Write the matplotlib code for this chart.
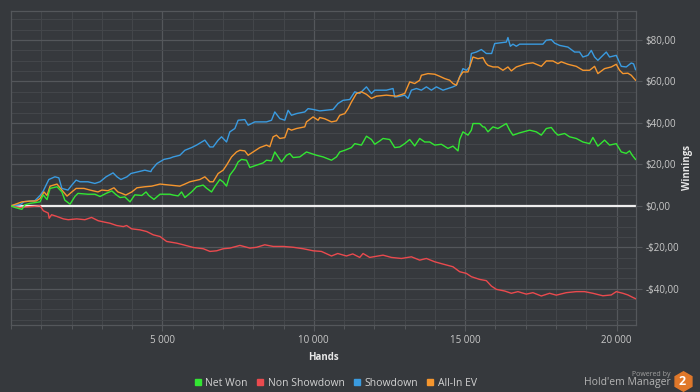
import matplotlib
matplotlib.use("Agg")
import matplotlib.pyplot as plt
from matplotlib.ticker import MultipleLocator, FuncFormatter
from matplotlib.lines import Line2D

# ---------------- data ----------------
sd_hands = [0, 300, 430, 790, 960, 1060, 1250, 1450, 1580, 1680, 1880, 2010, 2150, 2280, 2540, 2770, 2940,
            3140, 3370, 3500, 3630, 3830, 3960, 4190, 4420, 4620, 4650, 4820, 5050, 5250, 5356, 5577, 5742,
            5963, 6128, 6402, 6567, 6676, 6841, 6953, 7118, 7227, 7392, 7501, 7722, 7831, 8052, 8438, 8603,
            8712, 8877, 9042, 9151, 9263, 9428, 9702, 9811, 9976, 10197, 10636, 10801, 10966, 11187, 11352,
            11517, 11738, 11903, 12012, 12398, 12616, 12672, 12837, 13002, 13111, 13223, 13388, 13553, 13718,
            13883, 14048, 14266, 14431, 14596, 14708, 14817, 14926, 15038, 15147, 15203, 15368, 15533, 15698,
            15873, 15972, 16358, 16411, 16490, 16576, 16688, 16797, 17566, 17678, 17843, 17952, 18117, 18391,
            18612, 18777, 18886, 19051, 19163, 19272, 19381, 19546, 19658, 19767, 19988, 20153, 20318, 20483,
            20560, 20625]
sd_vals = [0, 0.5, 2, 2.5, 5, 7, 12.7, 14, 13.5, 8.4, 7.6, 10, 12.4, 11.6, 11.6, 10.8, 11.6,
           14, 15.9, 14, 12.7, 14, 15.6, 16.4, 17.2, 16.5, 17.5, 20.4, 22.4, 23, 23.6, 24.4, 26.8,
           28.1, 29.3, 31.7, 28.4, 28.4, 31.7, 33.3, 30.8, 35.7, 37.3, 41.3, 41.6, 38.9, 40.5, 40.5, 41.3,
           45.3, 42.1, 41.3, 46.1, 43.7, 44.5, 45.3, 46.9, 46.5, 45.8, 46.5, 49.4, 50.9, 51.3, 55,
           54.2, 57.4, 54.2, 55.8, 55.8, 56.6, 52.5, 52.8, 53.4, 51.8, 55.8, 56.6, 55.8, 57.4,
           55.8, 57.4, 55.8, 56.6, 57.4, 58.2, 62.2, 66.2, 65.4, 67, 73.5, 74.2, 75.4, 73.5,
           73.5, 78.3, 79, 81.2, 77, 78, 77, 78, 78, 79.9, 80.2, 78.5, 77.4, 76.6,
           74.2, 74.2, 71.8, 72.6, 75, 71.8, 70.2, 72.6, 74.2, 71.8, 72.6, 67.3, 67, 68.9,
           68.5, 65.7]

ev_hands = [0, 360, 630, 830, 960, 1090, 1190, 1290, 1520, 1680, 1850, 2010, 2150, 2410, 2610, 2870, 3000,
            3200, 3400, 3530, 3660, 3790, 3990, 4160, 4420, 4650, 4920, 5247, 5577, 5742, 5907, 6237, 6402,
            6567, 6676, 6841, 7006, 7118, 7283, 7448, 7557, 7722, 7831, 7996, 8217, 8438, 8547, 8656, 8766,
            8877, 9042, 9151, 9263, 9428, 9702, 9758, 9976, 10141, 10197, 10362, 10583, 10748, 10857, 11022,
            11131, 11243, 11408, 11573, 11738, 11903, 12068, 12398, 12728, 13002, 13167, 13332, 13497, 13553,
            13771, 13992, 14157, 14322, 14487, 14596, 14708, 14817, 14926, 15091, 15256, 15421, 15586, 15675,
            15751, 15916, 16081, 16246, 16411, 16523, 16688, 17018, 17236, 17513, 17678, 17897, 18062, 18173,
            18391, 18668, 18886, 19107, 19272, 19381, 19602, 19823, 19988, 20097, 20206, 20371, 20483, 20625]
ev_vals = [0, 1.9, 2.3, 2.3, 3.6, 6.7, 5, 9.5, 10.5, 7.6, 4.7, 6.7, 8.4, 8.4, 7.6, 6.7, 7.6,
           7.3, 8.7, 6.7, 6, 5.2, 6.7, 8.7, 9.2, 9.5, 10.5, 10, 9.5, 10.5, 11.6, 12.7, 14,
           11.6, 11.6, 15.6, 17.2, 19.6, 23.6, 26, 26.8, 26.5, 24.4, 26, 28.1, 29.3, 28.5, 33.3, 34.1,
           32.5, 32.9, 37.3, 36.5, 37.3, 38.1, 40.5, 42.9, 41.3, 42.6, 42, 40.5, 41, 43.7, 44.5,
           46.9, 50.1, 54.2, 55, 53.8, 51.8, 52.9, 53.4, 52.9, 54.2, 59.8, 59, 60.6, 63,
           63.8, 63.5, 62.5, 61.4, 60.6, 59, 58.2, 62.2, 64.6, 64.6, 71.8, 71, 71.5, 69,
           67.8, 67, 67, 65.4, 67, 65.1, 67, 68.6, 69, 67.3, 69.9, 69.9, 68.6, 69.5,
           68.3, 67.3, 65.4, 65.4, 67.3, 63.8, 66.2, 67, 68.3, 65.4, 63.8, 64, 63, 60.6]

nw_hands = [0, 130, 360, 460, 630, 960, 1060, 1190, 1290, 1520, 1680, 1780, 1950, 2110, 2210, 2540, 2770,
            2940, 3140, 3330, 3460, 3600, 3760, 3930, 4090, 4320, 4460, 4550, 4720, 4920, 5250, 5356, 5521,
            5633, 5742, 5963, 6128, 6346, 6457, 6623, 6732, 6897, 7006, 7118, 7227, 7392, 7501, 7613, 7778,
            7887, 8108, 8326, 8438, 8603, 8712, 8821, 8933, 9098, 9207, 9316, 9537, 9758, 9923, 10088, 10306,
            10583, 10748, 10857, 11022, 11243, 11352, 11573, 11738, 11903, 12012, 12177, 12286, 12507, 12672,
            12837, 13002, 13167, 13332, 13497, 13662, 13827, 13992, 14213, 14431, 14596, 14762, 14817, 14926,
            15091, 15203, 15256, 15477, 15586, 15642, 15751, 15916, 16081, 16358, 16467, 16576, 16797, 17127,
            17348, 17513, 17678, 17843, 17952, 18062, 18283, 18447, 18668, 18886, 19107, 19217, 19381, 19602,
            19767, 19988, 20153, 20318, 20427, 20516, 20625]
nw_vals = [0, -0.8, -1.7, 0.5, 1.2, 1.9, 5.3, 3, 8.4, 9.2, 6.7, 2.7, 0.8, 4.5, 6, 5.6, 5.6,
           4.5, 6, 7.2, 5.5, 4, 4.3, 1.9, 5.3, 5, 6.7, 5, 3.1, 5.6, 5.6, 5.2, 4.8,
           6.7, 4, 6.7, 9.2, 10, 8.5, 6.7, 9.3, 12.7, 11.5, 9.5, 14.8, 18, 21.2, 22.4, 22,
           18.5, 19.6, 20.7, 22, 21.7, 26, 23.6, 21.2, 24.4, 25.2, 23.3, 23.6, 26, 25.2, 24.4, 23.6,
           22, 23.6, 26, 26.8, 28.1, 30, 29.3, 33.6, 32, 29.7, 31.3, 32.5, 32, 28.1,
           28.4, 30, 32, 28.9, 32.5, 30.8, 30.8, 29.3, 29.7, 27.7, 28.8, 26.5, 32, 35.7,
           34.1, 36.5, 39.7, 39.7, 38.1, 38, 35.7, 38.1, 37.3, 39.7, 36.5, 34.1, 35.2, 36.5,
           35.7, 34.1, 37.3, 37.8, 35.7, 34.1, 34.9, 33.3, 32.5, 30.8, 30, 33, 28.8, 31.7,
           29.3, 30, 26, 25.3, 26.5, 24.4, 22.4]

ns_hands = [0, 300, 960, 1070, 1230, 1260, 1340, 1510, 1730, 1890, 2170, 2440, 2660, 2880, 3100, 3270,
            3490, 3710, 3820, 3980, 4260, 4480, 4700, 4920, 5140, 5470, 5690, 6020, 6350, 6570, 6790, 7010,
            7230, 7560, 7890, 8110, 8380, 8660, 8990, 9320, 9650, 9980, 10250, 10583, 10790, 11078, 11286,
            11517, 11626, 11847, 12286, 12563, 12893, 13223, 13497, 13718, 13992, 14266, 14596, 14817, 15038,
            15203, 15477, 15698, 15863, 16028, 16302, 16523, 16741, 17018, 17236, 17513, 17787, 18008, 18338,
            18668, 18942, 19216, 19546, 19823, 19988, 20206, 20371, 20536, 20625]
ns_vals = [0, -0.8, 0, -2.4, -3.5, -6, -4.3, -5.1, -6.3, -6.7, -6.3, -6.7, -5.6, -7.2, -7.9, -8.4,
           -9.5, -10, -9.5, -11.1, -11.6, -12.4, -14, -14.8, -17.2, -18, -18.8, -20.1, -20.7, -22, -21.7, -20.7,
           -20.4, -19.1, -20.4, -20, -18.8, -19.6, -19.6, -20, -20.7, -21.7, -22, -24.2, -23, -24.2, -23.2,
           -24.9, -23, -24.9, -23.8, -24.9, -25.4, -24.6, -26.2, -25.4, -27, -28.1, -29.4, -31.8, -32.6,
           -34.2, -35.5, -36.1, -38.7, -40.3, -41.1, -42.2, -41.4, -42.6, -41.9, -43.5, -42.2, -43.1, -41.9,
           -41.4, -41.4, -42.2, -43.4, -43, -41.4, -42.2, -43, -44.2, -44.8]

series_names = ["Net Won", "Non Showdown", "Showdown", "All-In EV"]
series_colors = ["#33e633", "#ea4a4e", "#3a9be0", "#f5962e"]
x_ticks = [5000, 10000, 15000, 20000]
y_ticks = [-40, -20, 0, 20, 40, 60, 80]

# ---------------- style ----------------
BG = "#36393d"
TXT = "#c9c9c9"
plt.rcParams['font.family'] = ['Open Sans', 'DejaVu Sans']

fig = plt.figure(figsize=(7.0, 3.92), dpi=100, facecolor=BG)
ax = fig.add_axes([11/700, 1-325/392, (636-11)/700, (325-11)/392])
ax.set_facecolor(BG)

ax.set_xlim(0, 20640)
ax.set_ylim(-57.5, 94)

ax.xaxis.set_major_locator(MultipleLocator(5000))
ax.xaxis.set_minor_locator(MultipleLocator(1000))
ax.yaxis.set_major_locator(MultipleLocator(20))
ax.yaxis.set_minor_locator(MultipleLocator(5))
ax.set_xticks(x_ticks)
ax.set_yticks(y_ticks)

ax.grid(which='major', color='#54575b', linewidth=0.9, zorder=0)
ax.grid(which='minor', color='#44474b', linewidth=0.7, zorder=0)
ax.set_axisbelow(True)

for s in ax.spines.values():
    s.set_color('#54575b')
    s.set_linewidth(0.9)

ax.yaxis.tick_right()
ax.tick_params(axis='y', which='major', colors='#54575b', labelcolor=TXT, labelsize=7, length=4, width=0.8, pad=3)
ax.tick_params(axis='y', which='minor', length=0)
ax.tick_params(axis='x', which='major', colors='#54575b', labelcolor=TXT, labelsize=7, length=4, width=0.8, pad=3)
ax.tick_params(axis='x', which='minor', colors='#54575b', length=3, width=0.7)

def yfmt(v, pos):
    v = int(round(v))
    return ("-$%d,00" % abs(v)) if v < 0 else ("$%d,00" % v)

def xfmt(v, pos):
    return "{:,}".format(int(v)).replace(",", " ")

ax.yaxis.set_major_formatter(FuncFormatter(yfmt))
ax.xaxis.set_major_formatter(FuncFormatter(xfmt))

ax.axhline(0, color='#eeeeee', linewidth=1.6, zorder=2)

data = [(nw_hands, nw_vals), (ns_hands, ns_vals), (sd_hands, sd_vals), (ev_hands, ev_vals)]
zorders = [6, 3, 4, 5]
for (h, v), c, z, n in zip(data, series_colors, zorders, series_names):
    ax.plot(h, v, color=c, linewidth=1.0, zorder=z, label=n)

ax.set_xlabel("Hands", color='#e6e6e6', fontsize=7, fontweight='bold')
ax.xaxis.set_label_coords(0.5, -(352 - 325) / (325 - 11))
ax.yaxis.set_label_position('right')
ax.set_ylabel("Winnings", color='#e6e6e6', fontsize=7, fontweight='bold', rotation=90)
ax.yaxis.set_label_coords((682 - 11) / (636 - 11), 0.5)

handles = [Line2D([], [], linestyle='none', marker='s', markersize=4.5, markerfacecolor=c,
                  markeredgecolor=c) for c in series_colors]
leg = fig.legend(handles, series_names, loc='center', bbox_to_anchor=(0.479, 1-383/392), ncol=4,
                 frameon=False, fontsize=7.5, labelcolor='#d2d2d2', handlelength=0.8,
                 handletextpad=0.3, columnspacing=0.8, borderpad=0)

# logo
fig.text(671/700, 1-374/392, "Powered by", color='#a0a0a0', fontsize=5, ha='right', va='center')
fig.text(671/700, 1-382/392, "Hold'em Manager", color='#b4b4b4', fontsize=7.5, ha='right', va='center')
fig.add_artist(Line2D([682.5/700], [1-381/392], marker='h', markersize=14, color='#e0782a',
                      linestyle='none', transform=fig.transFigure))
fig.text(682.5/700, 1-381.5/392, "2", color='white', fontsize=9, fontweight='bold', ha='center', va='center')

fig.savefig("out.png", dpi=100, facecolor=BG)
